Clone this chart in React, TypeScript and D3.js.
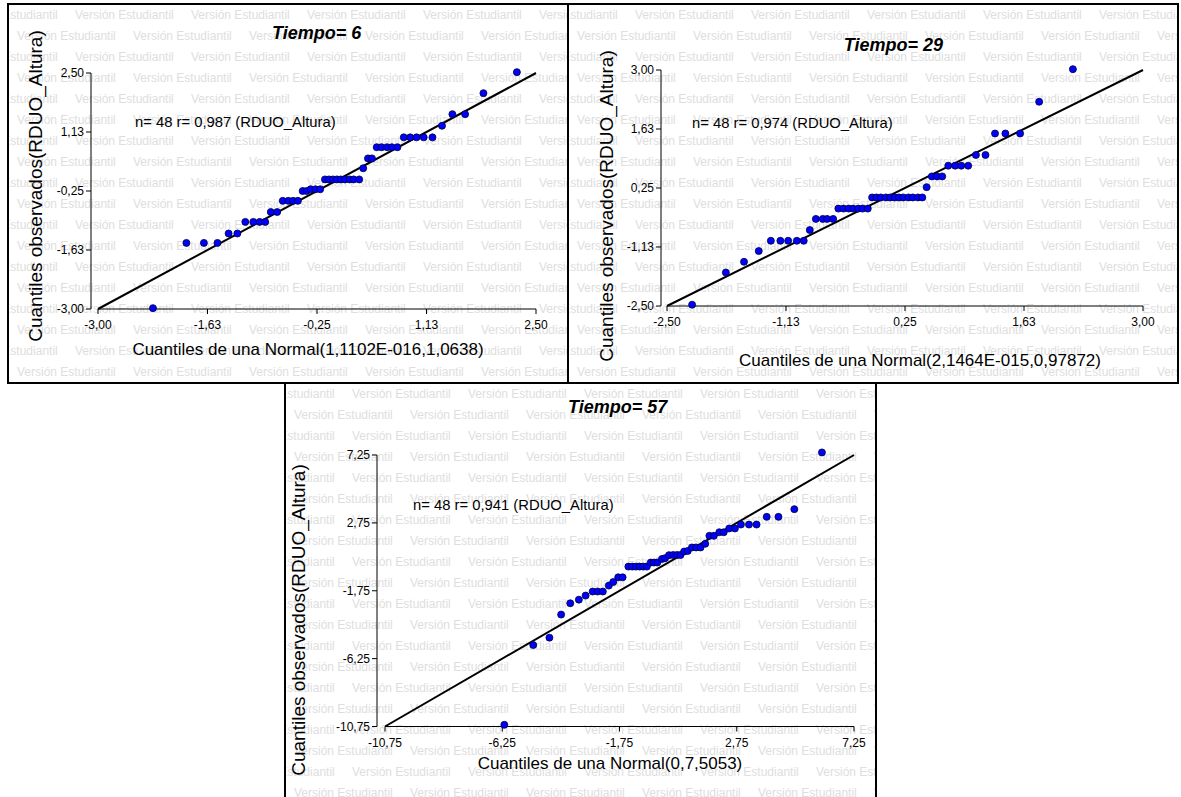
import React from "react";
import * as d3 from "d3";

// ---------- DATA ----------
const t6X = [-2.31,-1.89,-1.67,-1.50,-1.36,-1.25,-1.15,-1.05,-0.97,-0.90,-0.83,-0.75,-0.68,-0.61,-0.55,-0.49,-0.43,-0.38,-0.33,-0.27,-0.21,-0.15,-0.10,-0.05,0.00,0.05,0.10,0.16,0.21,0.28,0.33,0.39,0.44,0.50,0.56,0.63,0.69,0.76,0.84,0.92,1.00,1.09,1.20,1.32,1.45,1.61,1.84,2.26];
const t6Y = [-2.98,-1.46,-1.46,-1.46,-1.24,-1.24,-0.97,-0.97,-0.97,-0.97,-0.74,-0.74,-0.48,-0.48,-0.48,-0.48,-0.25,-0.25,-0.21,-0.21,-0.21,0.02,0.02,0.02,0.02,0.02,0.02,0.02,0.02,0.02,0.28,0.51,0.51,0.77,0.77,0.77,0.77,0.77,1.00,1.00,1.00,1.00,1.00,1.27,1.54,1.54,2.03,2.52];

const t29X = [-2.21,-1.82,-1.61,-1.44,-1.30,-1.19,-1.10,-1.00,-0.92,-0.85,-0.78,-0.70,-0.65,-0.58,-0.52,-0.46,-0.40,-0.35,-0.29,-0.24,-0.18,-0.13,-0.08,-0.03,0.03,0.08,0.13,0.18,0.23,0.29,0.34,0.40,0.45,0.50,0.56,0.62,0.68,0.75,0.83,0.90,0.98,1.07,1.18,1.29,1.41,1.58,1.80,2.19];
const t29Y = [-2.47,-1.72,-1.47,-1.22,-0.98,-0.98,-0.98,-0.98,-0.98,-0.73,-0.47,-0.47,-0.47,-0.47,-0.23,-0.23,-0.23,-0.23,-0.23,-0.23,-0.23,0.03,0.03,0.03,0.03,0.03,0.03,0.03,0.03,0.03,0.03,0.03,0.03,0.27,0.52,0.52,0.52,0.77,0.77,0.77,0.77,1.02,1.02,1.52,1.52,1.52,2.26,3.02];

const t57X = [-6.17,-5.06,-4.44,-3.99,-3.64,-3.31,-3.05,-2.78,-2.59,-2.39,-2.16,-1.99,-1.80,-1.63,-1.41,-1.26,-1.12,-0.98,-0.84,-0.70,-0.55,-0.43,-0.30,-0.12,0.00,0.15,0.31,0.46,0.59,0.73,0.87,1.03,1.19,1.36,1.54,1.70,1.87,2.08,2.25,2.46,2.68,2.91,3.22,3.51,3.90,4.35,4.96,6.02];
const t57Y = [-10.64,-5.35,-4.86,-3.33,-2.58,-2.34,-2.07,-1.80,-1.80,-1.80,-1.41,-1.17,-0.86,-0.86,-0.15,-0.15,-0.15,-0.15,-0.15,-0.15,0.12,0.12,0.12,0.36,0.41,0.61,0.62,0.62,0.62,0.85,0.89,1.12,1.12,1.12,1.36,1.89,1.89,2.13,2.13,2.38,2.38,2.64,2.64,2.64,3.15,3.15,3.66,7.42];

const t6Ticks = [-3, -1.625, -0.25, 1.125, 2.5];
const t6TickLabels = ["-3,00", "-1,63", "-0,25", "1,13", "2,50"];
const t29Ticks = [-2.5, -1.125, 0.25, 1.625, 3];
const t29TickLabels = ["-2,50", "-1,13", "0,25", "1,63", "3,00"];
const t57Ticks = [-10.75, -6.25, -1.75, 2.75, 7.25];
const t57TickLabels = ["-10,75", "-6,25", "-1,75", "2,75", "7,25"];

const titles = ["Tiempo= 6", "Tiempo= 29", "Tiempo= 57"];
const statTexts = ["n= 48 r= 0,987 (RDUO_Altura)", "n= 48 r= 0,974 (RDUO_Altura)", "n= 48 r= 0,941 (RDUO_Altura)"];
const xTitles = ["Cuantiles de una Normal(1,1102E-016,1,0638)", "Cuantiles de una Normal(2,1464E-015,0,97872)", "Cuantiles de una Normal(0,7,5053)"];
const yTitle = "Cuantiles observados(RDUO_Altura)";
const watermarkText = "Versión Estudiantil";

// ---------- LAYOUT ----------
const FONT = "'Liberation Sans', Arial, Helvetica, sans-serif";

type Cfg = {
  id: string;
  box: [number, number, number, number];
  xs: d3.ScaleLinear<number, number>;
  ys: d3.ScaleLinear<number, number>;
  yAxisX: number;
  xAxisY: number;
  ticks: number[];
  tickLabels: string[];
  X: number[];
  Y: number[];
  title: string;
  titlePos: [number, number];
  titleAnchor: "start" | "middle" | "end";
  stat: string;
  statPos: [number, number];
  xTitle: string;
  xTitlePos: [number, number];
  yTitlePos: [number, number];
};

const cfgs: Cfg[] = [
  {
    id: "p1",
    box: [8, 4, 560, 379],
    xs: d3.scaleLinear().domain([t6Ticks[0], t6Ticks[4]]).range([98, 536]),
    ys: d3.scaleLinear().domain([t6Ticks[0], t6Ticks[4]]).range([309, 73]),
    yAxisX: 91,
    xAxisY: 309,
    ticks: t6Ticks,
    tickLabels: t6TickLabels,
    X: t6X,
    Y: t6Y,
    title: titles[0],
    titlePos: [272, 39],
    titleAnchor: "start",
    stat: statTexts[0],
    statPos: [135, 127],
    xTitle: xTitles[0],
    xTitlePos: [308, 355],
    yTitlePos: [35, 186],
  },
  {
    id: "p2",
    box: [568, 4, 610, 379],
    xs: d3.scaleLinear().domain([t29Ticks[0], t29Ticks[4]]).range([667, 1143]),
    ys: d3.scaleLinear().domain([t29Ticks[0], t29Ticks[4]]).range([306, 70]),
    yAxisX: 661,
    xAxisY: 306,
    ticks: t29Ticks,
    tickLabels: t29TickLabels,
    X: t29X,
    Y: t29Y,
    title: titles[1],
    titlePos: [943, 51],
    titleAnchor: "end",
    stat: statTexts[1],
    statPos: [692, 128],
    xTitle: xTitles[1],
    xTitlePos: [920, 366],
    yTitlePos: [606, 206],
  },
  {
    id: "p3",
    box: [285, 383, 591, 420],
    xs: d3.scaleLinear().domain([t57Ticks[0], t57Ticks[4]]).range([385, 854]),
    ys: d3.scaleLinear().domain([t57Ticks[0], t57Ticks[4]]).range([726.5, 455]),
    yAxisX: 377,
    xAxisY: 726.5,
    ticks: t57Ticks,
    tickLabels: t57TickLabels,
    X: t57X,
    Y: t57Y,
    title: titles[2],
    titlePos: [568, 413],
    titleAnchor: "start",
    stat: statTexts[2],
    statPos: [413, 510],
    xTitle: xTitles[2],
    xTitlePos: [610, 769],
    yTitlePos: [298, 620],
  },
];

function Watermark({ box }: { box: [number, number, number, number] }) {
  const [x0, y0, w, h] = box;
  const items: JSX.Element[] = [];
  const period = 116;
  const rowGap = 21;
  for (let k = 0; y0 + 11 + k * rowGap < y0 + h + 12; k++) {
    const cy = y0 + 11 + k * rowGap;
    const off = k % 2 === 0 ? -49 : 9;
    for (let sx = x0 + off; sx < x0 + w; sx += period) {
      items.push(
        <text key={`${k}-${sx}`} x={sx} y={cy + 4} fontSize={12} fill="#dedede" fontFamily={FONT}>
          {watermarkText}
        </text>
      );
    }
  }
  return <g>{items}</g>;
}

function Panel({ c }: { c: Cfg }) {
  const [bx, by, bw, bh] = c.box;
  const [d0, d1] = c.xs.domain();
  const line = d3.line<[number, number]>().x((d) => c.xs(d[0])).y((d) => c.ys(d[1]));
  const refPath = line([[d0, d0], [d1, d1]]) || "";
  const yr = c.ys.range();
  const xr = c.xs.range();
  return (
    <g>
      <defs>
        <clipPath id={`clip-${c.id}`}>
          <rect x={bx} y={by} width={bw} height={bh} />
        </clipPath>
      </defs>
      <rect x={bx} y={by} width={bw} height={bh} fill="#ffffff" />
      <g clipPath={`url(#clip-${c.id})`}>
        <Watermark box={c.box} />
        {/* y axis */}
        <line x1={c.yAxisX} x2={c.yAxisX} y1={yr[1]} y2={yr[0]} stroke="#000" strokeWidth={1} />
        {c.ticks.map((t, i) => (
          <g key={`yt${i}`}>
            <line x1={c.yAxisX - 5} x2={c.yAxisX} y1={c.ys(t)} y2={c.ys(t)} stroke="#000" strokeWidth={1} />
            <text x={c.yAxisX - 7} y={c.ys(t) + 4} fontSize={12} textAnchor="end" fontFamily={FONT} fill="#000">
              {c.tickLabels[i]}
            </text>
          </g>
        ))}
        {/* x axis */}
        <line x1={xr[0]} x2={xr[1]} y1={c.xAxisY} y2={c.xAxisY} stroke="#000" strokeWidth={1} />
        {c.ticks.map((t, i) => (
          <g key={`xt${i}`}>
            <line x1={c.xs(t)} x2={c.xs(t)} y1={c.xAxisY} y2={c.xAxisY + 5} stroke="#000" strokeWidth={1} />
            <text x={c.xs(t)} y={c.xAxisY + 20} fontSize={12} textAnchor="middle" fontFamily={FONT} fill="#000">
              {c.tickLabels[i]}
            </text>
          </g>
        ))}
        {/* texts */}
        <text x={c.titlePos[0]} y={c.titlePos[1]} fontSize={18} fontWeight="bold" fontStyle="italic" textAnchor={c.titleAnchor} fontFamily={FONT} fill="#000">
          {c.title}
        </text>
        <text x={c.statPos[0]} y={c.statPos[1]} fontSize={14.8} fontFamily={FONT} fill="#000">
          {c.stat}
        </text>
        <text x={c.xTitlePos[0]} y={c.xTitlePos[1]} fontSize={17} textAnchor="middle" fontFamily={FONT} fill="#000">
          {c.xTitle}
        </text>
        <text
          transform={`translate(${c.yTitlePos[0]},${c.yTitlePos[1]}) rotate(-90)`}
          fontSize={19}
          textAnchor="middle"
          dy="0.35em"
          fontFamily={FONT}
          fill="#000"
        >
          {yTitle}
        </text>
        {/* reference line */}
        <path d={refPath} stroke="#000" strokeWidth={2} fill="none" />
        {/* points */}
        {c.X.map((x, i) => (
          <circle key={`pt${i}`} cx={c.xs(x)} cy={c.ys(c.Y[i])} r={3.5} fill="#0000ff" stroke="#000033" strokeWidth={0.8} />
        ))}
      </g>
      <rect x={bx} y={by} width={bw} height={bh} fill="none" stroke="#000" strokeWidth={2} />
    </g>
  );
}

export default function App() {
  return (
    <svg
      width={1181}
      height={797}
      viewBox="0 0 1181 797"
      style={{ position: "absolute", left: 0, top: 0, background: "#fff" }}
    >
      <rect x={0} y={0} width={1181} height={797} fill="#fff" />
      {cfgs.map((c) => (
        <Panel key={c.id} c={c} />
      ))}
    </svg>
  );
}
